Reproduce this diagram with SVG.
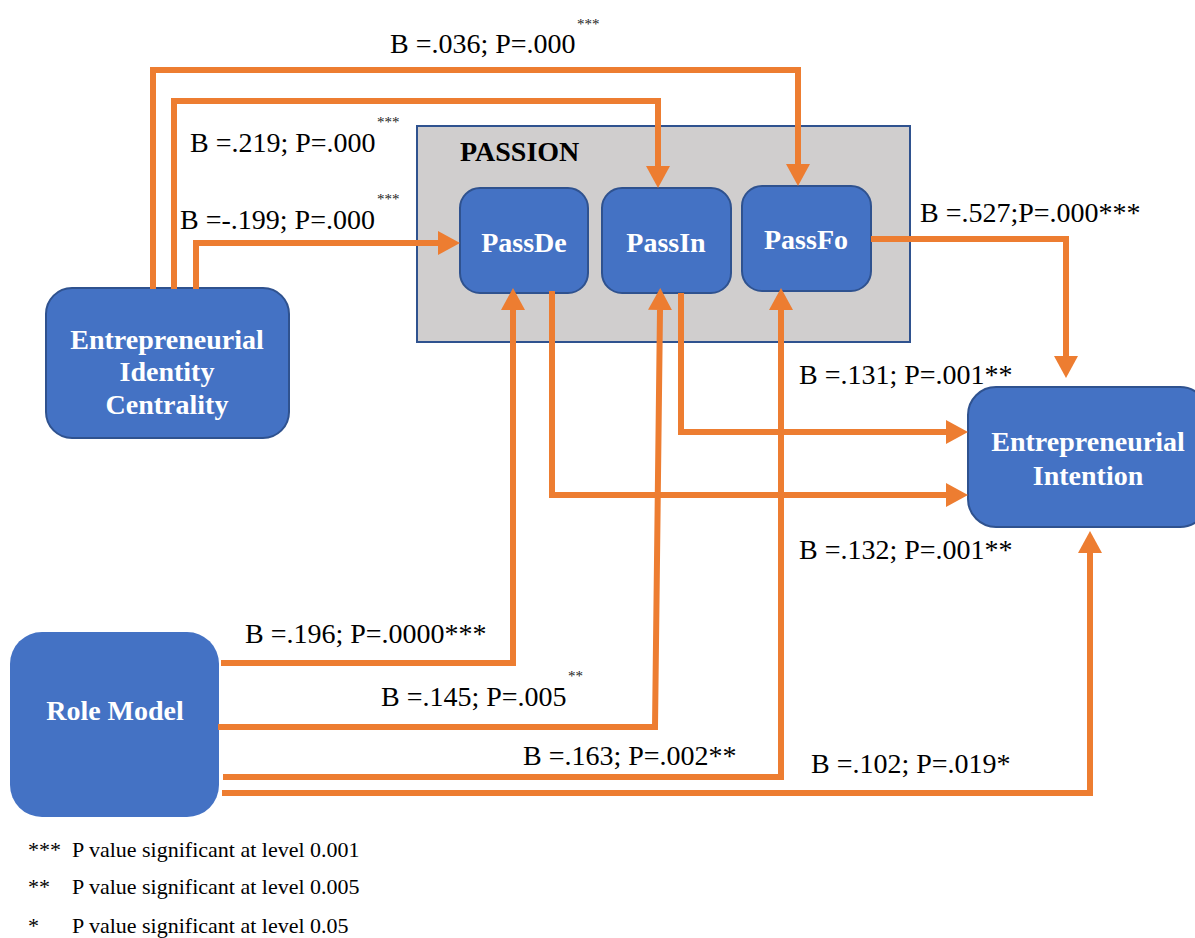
<svg xmlns="http://www.w3.org/2000/svg" width="1195" height="938" viewBox="0 0 1195 938" font-family="Liberation Serif, Times New Roman, serif">
<style>
.node{fill:#4472C4;stroke:#2F528F;stroke-width:2}
.nt{font-weight:bold;font-size:28px;fill:#fff;text-anchor:middle}
.lbl{font-size:28px;fill:#000}
.sup{font-size:15px;fill:#222}
.leg{font-size:22px;fill:#000}
.c{fill:none;stroke:#ED7D31;stroke-width:6;marker-end:url(#ah)}
</style>
<defs>
<marker id="ah" markerUnits="userSpaceOnUse" viewBox="0 0 22 24" refX="0" refY="12" markerWidth="22" markerHeight="24" orient="auto">
<path d="M0,0 L22,12 L0,24 Z" fill="#ED7D31"/>
</marker>
</defs>
<rect x="0" y="0" width="1195" height="938" fill="#fff"/>
<g id="passion">
<rect x="417" y="126" width="493" height="216" fill="#D0CECE" stroke="#2F528F" stroke-width="2"/>
<text x="460" y="161" font-weight="bold" font-size="28" fill="#000">PASSION</text>
</g>
<g id="eic">
<rect class="node" x="46" y="288" width="243" height="150" rx="26"/>
<text class="nt" x="167" y="349">Entrepreneurial</text>
<text class="nt" x="167" y="381">Identity</text>
<text class="nt" x="167" y="414">Centrality</text>
</g>
<g id="passde">
<rect class="node" x="460" y="188" width="128" height="105" rx="20"/>
<text class="nt" x="524" y="252">PassDe</text>
</g>
<g id="passin">
<rect class="node" x="602" y="188" width="129" height="105" rx="20"/>
<text class="nt" x="666" y="252">PassIn</text>
</g>
<g id="passfo">
<rect class="node" x="742" y="186" width="129" height="105" rx="20"/>
<text class="nt" x="806" y="249">PassFo</text>
</g>
<g id="ei">
<rect class="node" x="968" y="387" width="240" height="140" rx="28"/>
<text class="nt" x="1088" y="451">Entrepreneurial</text>
<text class="nt" x="1088" y="485">Intention</text>
</g>
<g id="rolemodel">
<rect x="10" y="632" width="209" height="185" rx="32" fill="#4472C4"/>
<text class="nt" x="115" y="720">Role Model</text>
</g>
<g id="connectors">
<path class="c" d="M153,289 V70 H798 V164"/>
<path class="c" d="M174,289 V101 H658 V166"/>
<path class="c" d="M196,289 V243 H438"/>
<path class="c" d="M871,239 H1066 V356"/>
<path class="c" d="M681,293 V432 H946"/>
<path class="c" d="M552,291 V495 H946"/>
<path class="c" d="M221,663 H513 V310"/>
<path class="c" d="M218,727 H655 L660,310"/>
<path class="c" d="M223,777 H781 V310"/>
<path class="c" d="M222,793 H1090 V553"/>
</g>
<g id="labels">
<text class="lbl" x="390" y="53">B =.036; P=.000</text>
<text class="sup" x="577" y="29">***</text>
<text class="lbl" x="190" y="152">B =.219; P=.000</text>
<text class="sup" x="377" y="127">***</text>
<text class="lbl" x="180" y="229">B =-.199; P=.000</text>
<text class="sup" x="377" y="204">***</text>
<text class="lbl" x="920" y="222">B =.527;P=.000***</text>
<text class="lbl" x="799" y="384">B =.131; P=.001**</text>
<text class="lbl" x="799" y="559">B =.132; P=.001**</text>
<text class="lbl" x="245" y="643">B =.196; P=.0000***</text>
<text class="lbl" x="381" y="706">B =.145; P=.005</text>
<text class="sup" x="568" y="681">**</text>
<text class="lbl" x="523" y="765">B =.163; P=.002**</text>
<text class="lbl" x="811" y="773">B =.102; P=.019*</text>
</g>
<g id="legend">
<text class="leg" x="28" y="857">***</text><text class="leg" x="72" y="857">P value significant at level 0.001</text>
<text class="leg" x="28" y="894">**</text><text class="leg" x="72" y="894">P value significant at level 0.005</text>
<text class="leg" x="28" y="933">*</text><text class="leg" x="72" y="933">P value significant at level 0.05</text>
</g>
</svg>
